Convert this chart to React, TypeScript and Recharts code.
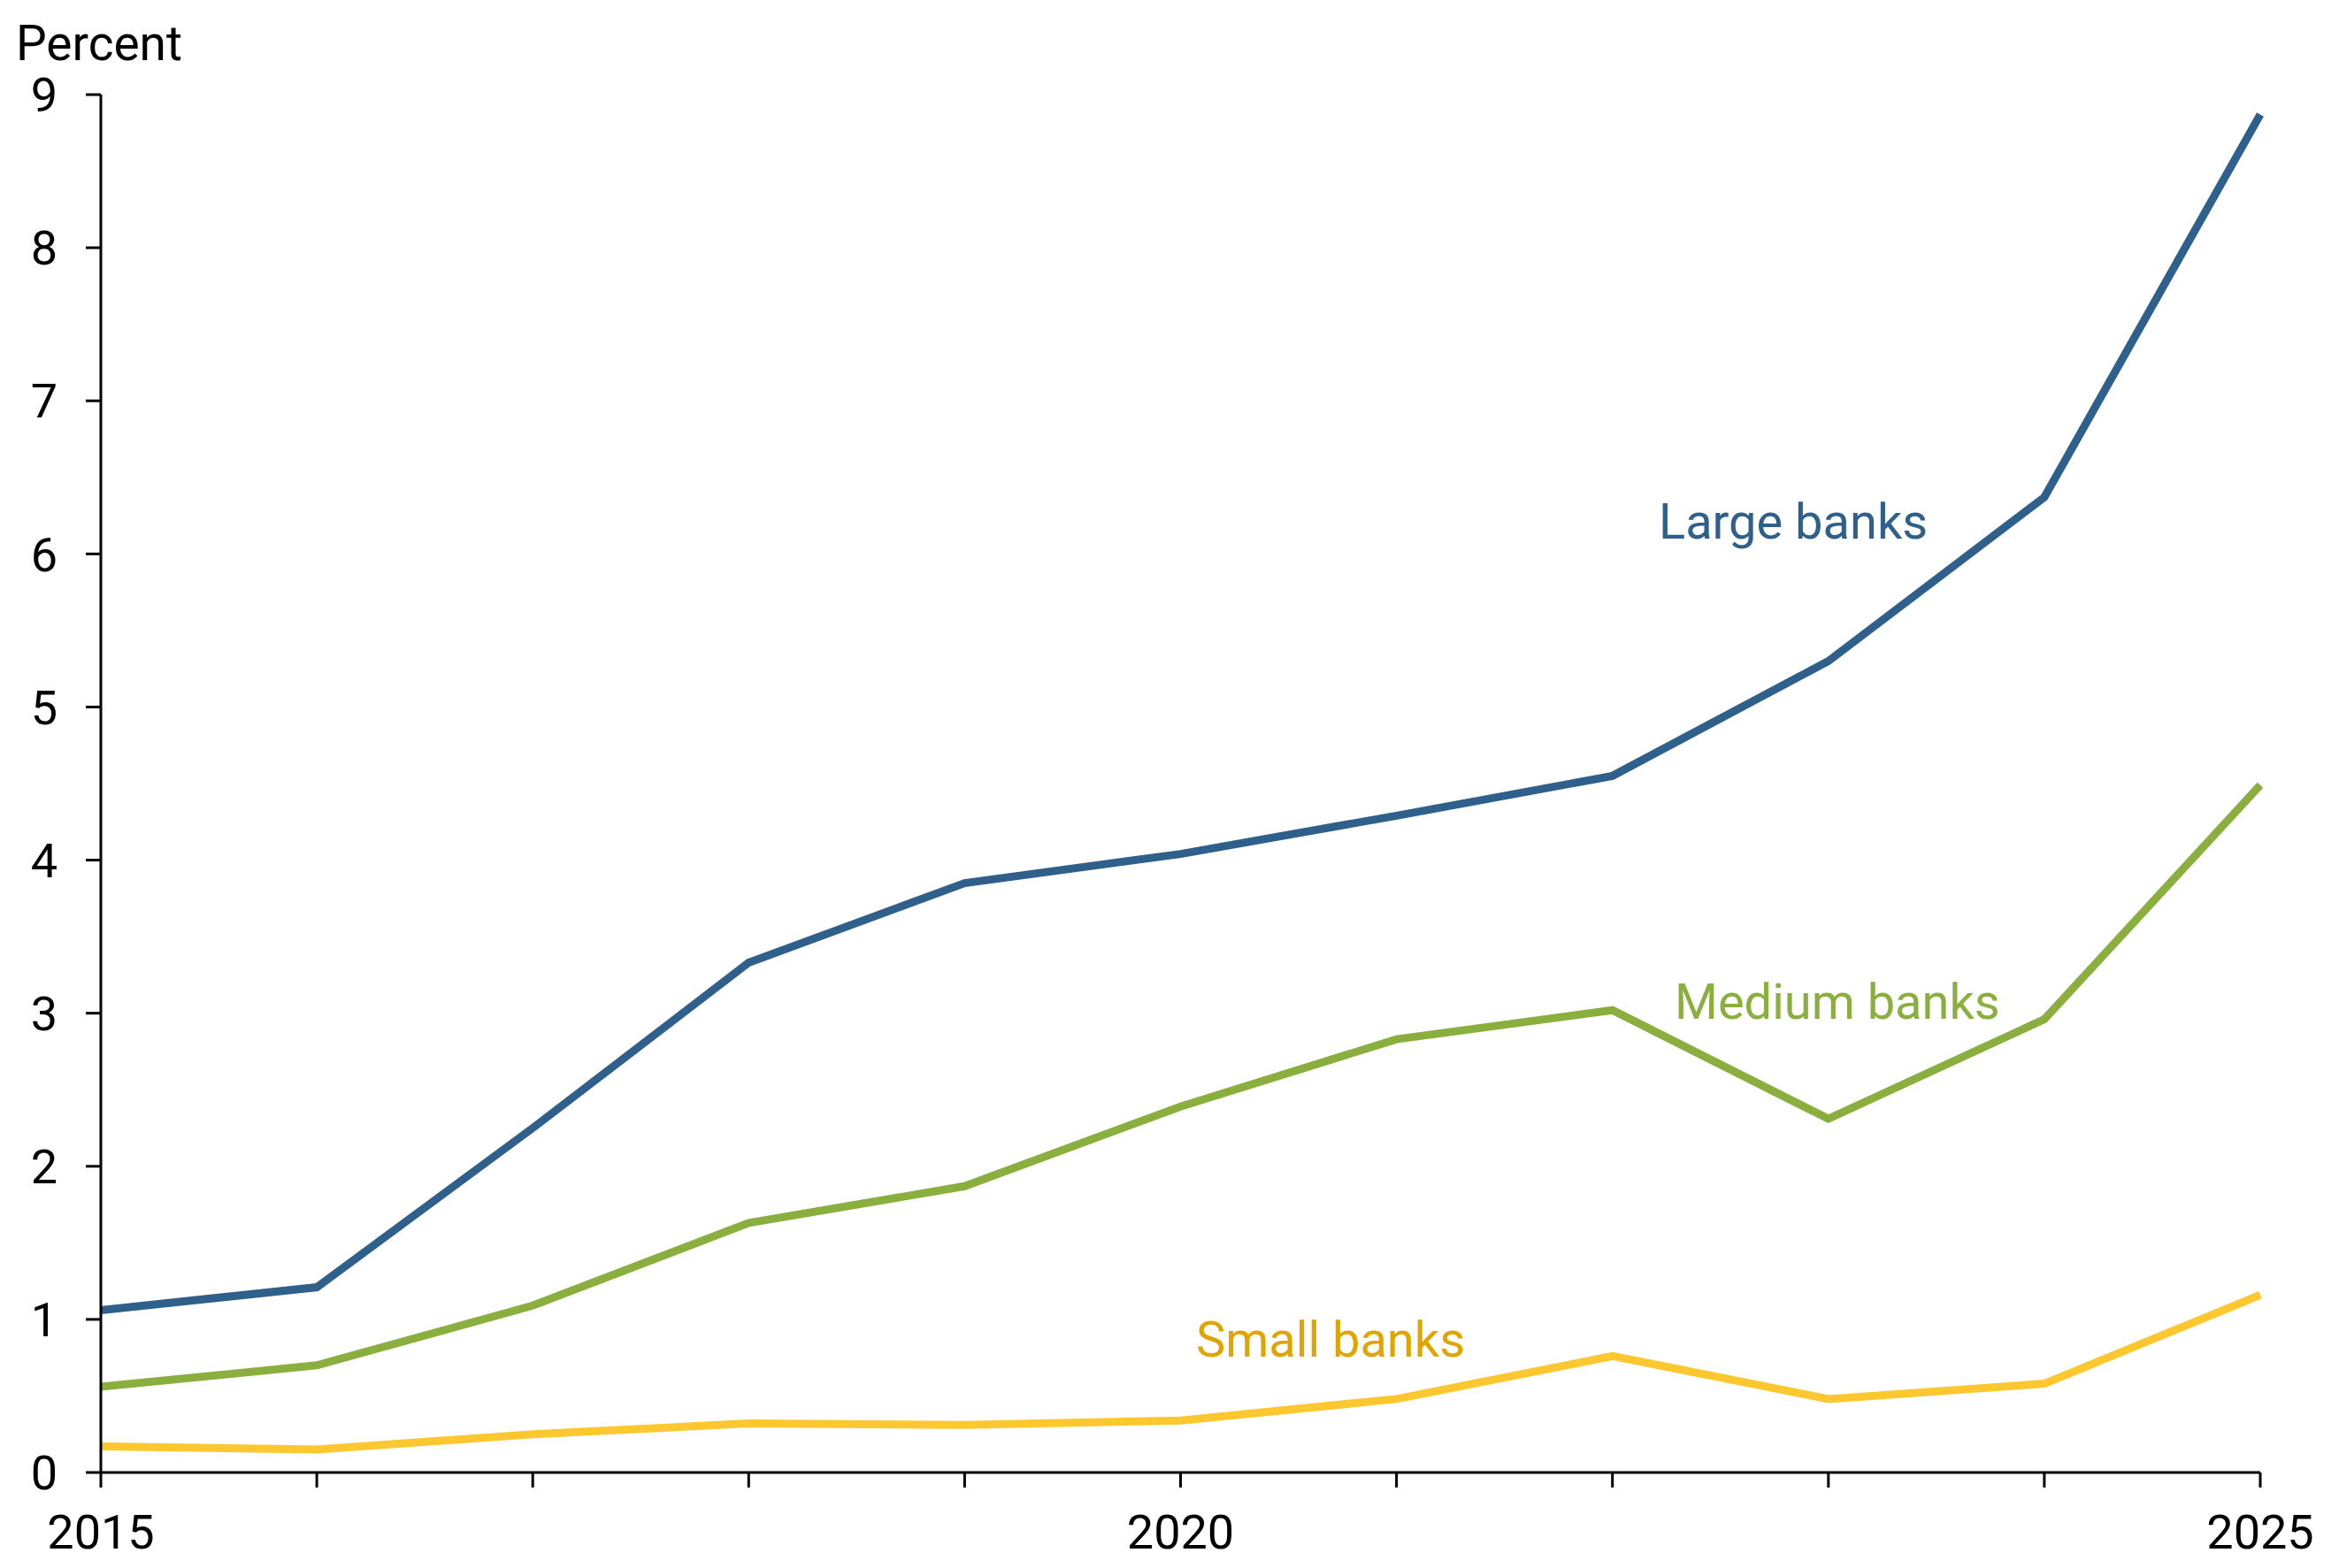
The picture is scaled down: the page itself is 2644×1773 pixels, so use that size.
import { LineChart, Line, XAxis, YAxis } from "recharts";

const years = [2015, 2016, 2017, 2018, 2019, 2020, 2021, 2022, 2023, 2024, 2025];
const largeBanks = [1.06, 1.21, 2.25, 3.33, 3.85, 4.04, 4.29, 4.55, 5.3, 6.37, 8.87];
const mediumBanks = [0.56, 0.7, 1.09, 1.63, 1.87, 2.39, 2.83, 3.02, 2.31, 2.96, 4.49];
const smallBanks = [0.17, 0.15, 0.25, 0.32, 0.31, 0.34, 0.48, 0.76, 0.48, 0.58, 1.16];
const yTicks = [0, 1, 2, 3, 4, 5, 6, 7, 8, 9];
const labeledYears = [2015, 2020, 2025];

const BLUE = "#2F5F8B";
const GREEN = "#8AAF3E";
const YELLOW = "#FDC72F";
const YELLOW_TEXT = "#E0A500";
const FONT = "Roboto, 'Noto Sans', sans-serif";

const data = years.map((year, i) => ({
  year,
  large: largeBanks[i],
  medium: mediumBanks[i],
  small: smallBanks[i],
}));

export default function App() {
  const tickStyle = { fontFamily: FONT, fontSize: 54, fill: "#000" };
  return (
    <div style={{ position: "absolute", left: 0, top: 0, background: "#fff" }}>
      <LineChart width={2644} height={1773} data={data} margin={{ top: 107, right: 89, bottom: 0, left: 0 }}>
        <XAxis
          dataKey="year"
          type="number"
          domain={[2015, 2025]}
          ticks={years}
          interval={0}
          tickFormatter={(v: number) => (labeledYears.includes(v) ? String(v) : "")}
          height={108}
          tickSize={17}
          tickMargin={31}
          stroke="#000"
          strokeWidth={3}
          tick={tickStyle}
        />
        <YAxis
          domain={[0, 9]}
          ticks={yTicks}
          interval={0}
          width={114}
          tickSize={17}
          tickMargin={32}
          stroke="#000"
          strokeWidth={3}
          tick={tickStyle}
        />
        <Line dataKey="small" stroke={YELLOW} strokeWidth={9} dot={false} isAnimationActive={false} />
        <Line dataKey="medium" stroke={GREEN} strokeWidth={9} dot={false} isAnimationActive={false} />
        <Line dataKey="large" stroke={BLUE} strokeWidth={9} dot={false} isAnimationActive={false} />
        <text x={18} y={68} fontFamily={FONT} fontSize={55} fill="#000">
          Percent
        </text>
        <text x={1875} y={609} fontFamily={FONT} fontSize={56} fill={BLUE}>
          Large banks
        </text>
        <text x={1893} y={1152} fontFamily={FONT} fontSize={56} fill={GREEN}>
          Medium banks
        </text>
        <text x={1352} y={1534} fontFamily={FONT} fontSize={56} fill={YELLOW_TEXT}>
          Small banks
        </text>
      </LineChart>
    </div>
  );
}
